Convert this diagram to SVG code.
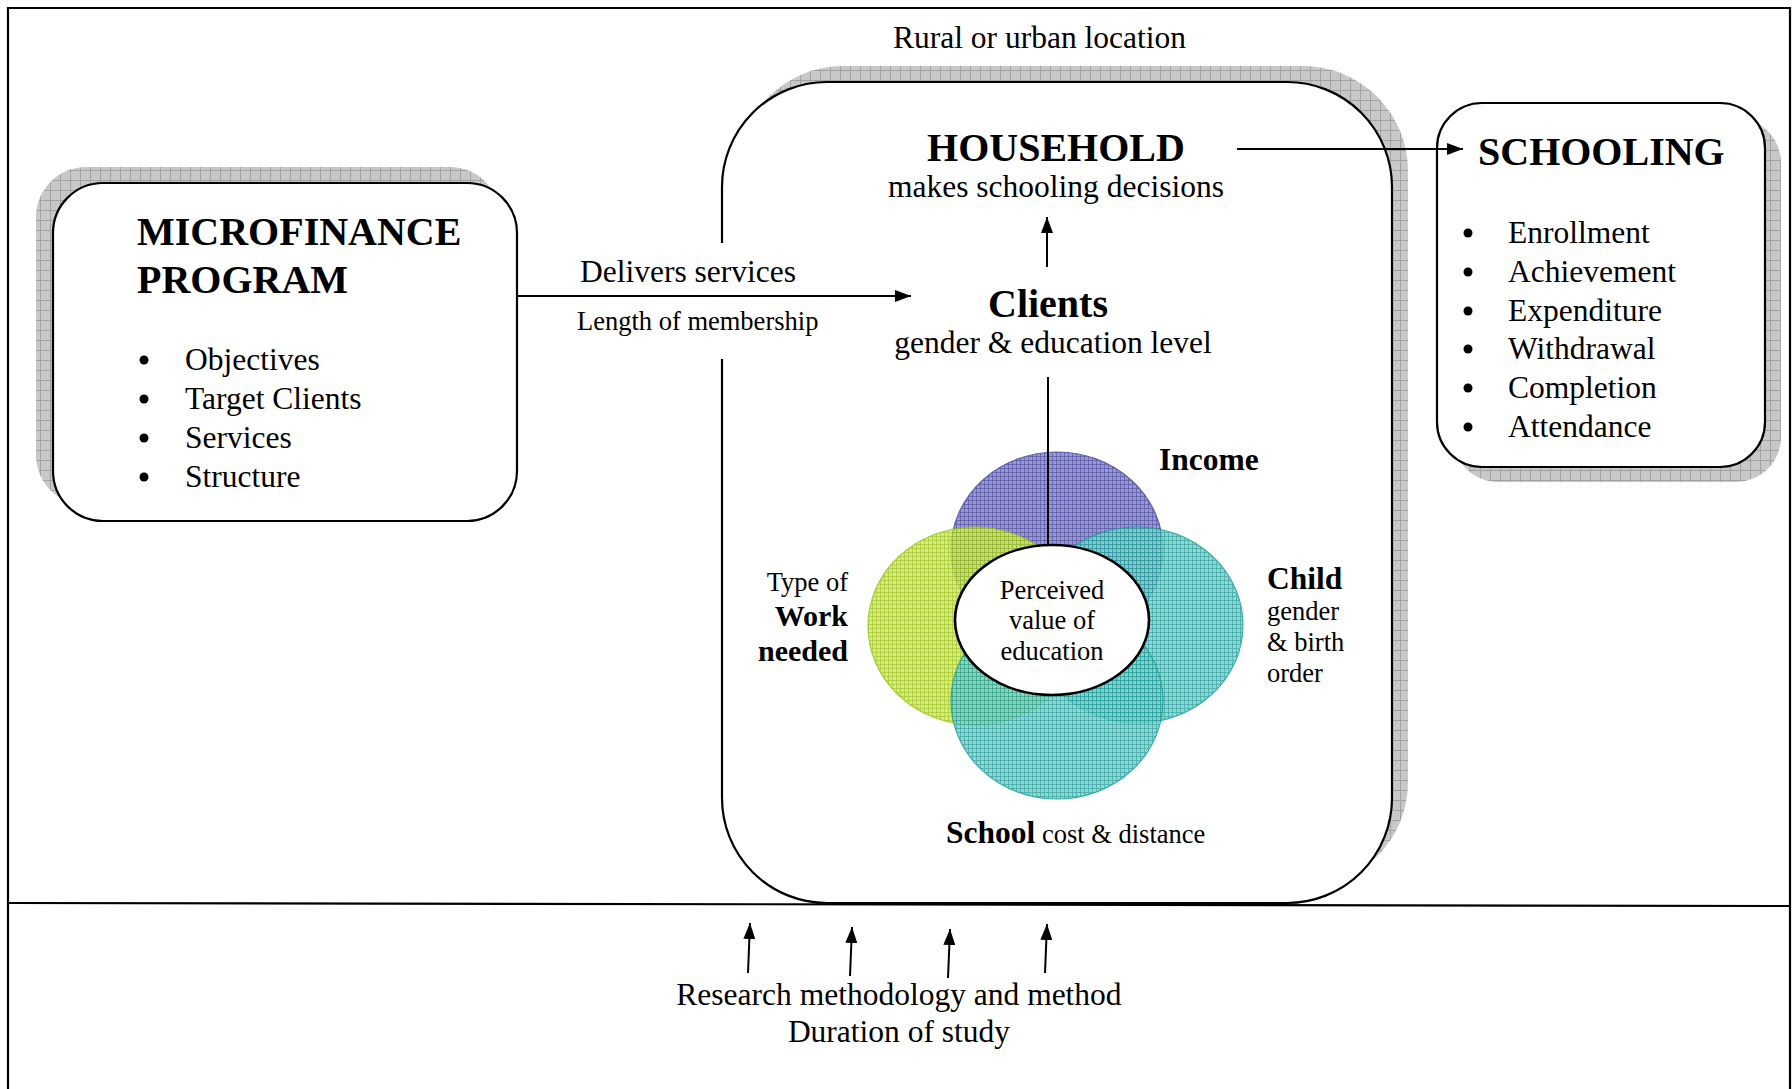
<svg xmlns="http://www.w3.org/2000/svg" width="1792" height="1089" viewBox="0 0 1792 1089">
<style>
  text { font-family: "Liberation Serif", "Times New Roman", serif; fill: #000; }
  .reg { font-size: 31.5px; }
  .sm { font-size: 26.5px; }
  .hd { font-size: 40px; font-weight: bold; }
  .bd { font-size: 31.5px; font-weight: bold; }
  .box { fill: #fff; stroke: #000; stroke-width: 2.2; }
  .shadow { fill: url(#shade); stroke: none; }
  .line { stroke: #000; stroke-width: 2; fill: none; }
  .frame { stroke: #000; stroke-width: 2.2; fill: none; }
  .bul { fill: #000; }
</style>
<defs>
  <pattern id="shade" width="10" height="10" patternUnits="userSpaceOnUse">
    <rect width="10" height="10" fill="#c8c8c8"/>
    <path d="M0,0.5H10M0.5,0V10" stroke="#a2a2a2" stroke-width="1"/>
  </pattern>
  <pattern id="pPurple" width="4" height="4" patternUnits="userSpaceOnUse">
    <rect width="4" height="4" fill="#8e8ecc"/>
    <path d="M0,0.5H4M0.5,0V4" stroke="#4c4ca2" stroke-width="0.8"/>
  </pattern>
  <pattern id="pGreen" width="4" height="4" patternUnits="userSpaceOnUse">
    <rect width="4" height="4" fill="#cfe672"/>
    <path d="M0,0.5H4M0.5,0V4" stroke="#9cc412" stroke-width="0.8"/>
  </pattern>
  <pattern id="pTeal" width="4" height="4" patternUnits="userSpaceOnUse">
    <rect width="4" height="4" fill="#86ccc8"/>
    <path d="M0,0.5H4M0.5,0V4" stroke="#1f9f9b" stroke-width="0.8"/>
  </pattern>
  <marker id="arr" viewBox="0 0 16 12" refX="16" refY="6" markerWidth="16" markerHeight="12" orient="auto" markerUnits="userSpaceOnUse">
    <path d="M0,0 L16,6 L0,12 z" fill="#000"/>
  </marker>
</defs>
<rect width="1792" height="1089" fill="#fff"/>
<g id="frame">
  <path class="frame" d="M8,1089 V8 H1790 V1089"/>
  <path class="frame" d="M8,903 L1790,906" stroke-width="2.6"/>
</g>
<g id="microfinance">
  <rect class="shadow" x="36" y="167" width="464" height="338" rx="50" ry="50"/>
  <rect class="box" x="53" y="183" width="464" height="338" rx="50" ry="50"/>
  <text class="hd" x="137" y="245">MICROFINANCE</text>
  <text class="hd" x="137" y="293">PROGRAM</text>
  <circle class="bul" cx="144" cy="360" r="4.5"/>
  <circle class="bul" cx="144" cy="399" r="4.5"/>
  <circle class="bul" cx="144" cy="438" r="4.5"/>
  <circle class="bul" cx="144" cy="477" r="4.5"/>
  <text class="reg" x="185" y="370">Objectives</text>
  <text class="reg" x="185" y="409">Target Clients</text>
  <text class="reg" x="185" y="448">Services</text>
  <text class="reg" x="185" y="487">Structure</text>
</g>
<g id="household">
  <rect class="shadow" x="738" y="66" width="670" height="821" rx="105" ry="105"/>
  <rect class="box" x="722" y="82" width="670" height="821" rx="105" ry="105"/>
  <rect x="570" y="243" width="262" height="116" fill="#fff"/>
  <text class="hd" x="1056" y="161" text-anchor="middle">HOUSEHOLD</text>
  <text class="reg" x="1056" y="197" text-anchor="middle">makes schooling decisions</text>
</g>
<text id="location" class="reg" x="893" y="48">Rural or urban location</text>
<g id="clients">
  <text class="hd" x="1048" y="317" text-anchor="middle">Clients</text>
  <text class="reg" x="1053" y="353" text-anchor="middle">gender &amp; education level</text>
</g>
<g id="schooling">
  <rect class="shadow" x="1453" y="118" width="328" height="364" rx="45" ry="45"/>
  <rect class="box" x="1437" y="103" width="328" height="364" rx="45" ry="45"/>
  <text class="hd" x="1478" y="165">SCHOOLING</text>
  <circle class="bul" cx="1468" cy="233" r="4.5"/>
  <circle class="bul" cx="1468" cy="272" r="4.5"/>
  <circle class="bul" cx="1468" cy="311" r="4.5"/>
  <circle class="bul" cx="1468" cy="349" r="4.5"/>
  <circle class="bul" cx="1468" cy="388" r="4.5"/>
  <circle class="bul" cx="1468" cy="427" r="4.5"/>
  <text class="reg" x="1508" y="243">Enrollment</text>
  <text class="reg" x="1508" y="282">Achievement</text>
  <text class="reg" x="1508" y="321">Expenditure</text>
  <text class="reg" x="1508" y="359">Withdrawal</text>
  <text class="reg" x="1508" y="398">Completion</text>
  <text class="reg" x="1508" y="437">Attendance</text>
</g>
<g id="factors">
  <ellipse cx="1057" cy="550" rx="106" ry="98" fill="url(#pPurple)" stroke="#4c4ca8" stroke-width="1.2" opacity="0.9"/>
  <ellipse cx="975" cy="626" rx="107" ry="99" fill="url(#pGreen)" stroke="#98c414" stroke-width="1.2" opacity="0.85"/>
  <ellipse cx="1137" cy="625" rx="106" ry="98" fill="url(#pTeal)" stroke="#1fa09c" stroke-width="1.2" opacity="0.85"/>
  <ellipse cx="1057" cy="701" rx="106" ry="98" fill="url(#pTeal)" stroke="#1fa09c" stroke-width="1.2" opacity="0.85"/>
</g>
<g id="perceived">
  <ellipse cx="1052" cy="620" rx="97" ry="75" fill="#fff" stroke="#000" stroke-width="2.6"/>
  <text class="sm" x="1052" y="599" text-anchor="middle">Perceived</text>
  <text class="sm" x="1052" y="629" text-anchor="middle">value of</text>
  <text class="sm" x="1052" y="660" text-anchor="middle">education</text>
</g>
<g id="income"><text class="bd" x="1159" y="470">Income</text></g>
<g id="child">
  <text class="bd" x="1267" y="589">Child</text>
  <text class="sm" x="1267" y="620">gender</text>
  <text class="sm" x="1267" y="651">&amp; birth</text>
  <text class="sm" x="1267" y="682">order</text>
</g>
<g id="work">
  <text class="sm" x="848" y="591" text-anchor="end">Type of</text>
  <text class="bd" x="848" y="626" text-anchor="end" style="font-size:30px">Work</text>
  <text class="bd" x="848" y="661" text-anchor="end" style="font-size:30px">needed</text>
</g>
<g id="school">
  <text x="946" y="843"><tspan class="bd">School</tspan><tspan class="sm"> cost &amp; distance</tspan></text>
</g>
<g id="connectors">
  <path class="line" d="M517,296 L911,296" marker-end="url(#arr)"/>
  <path class="line" d="M1047,267 L1047,217" marker-end="url(#arr)"/>
  <path class="line" d="M1237,149 L1463,149" marker-end="url(#arr)"/>
  <path class="line" d="M1048,377 L1048,545"/>
  <path class="line" d="M748,973 L750,923" marker-end="url(#arr)"/>
  <path class="line" d="M850,976 L852,927" marker-end="url(#arr)"/>
  <path class="line" d="M948,978 L950,929" marker-end="url(#arr)"/>
  <path class="line" d="M1045,973 L1047,924" marker-end="url(#arr)"/>
</g>
<g id="labels">
  <text class="reg" x="580" y="282">Delivers services</text>
  <text class="sm" x="577" y="330">Length of membership</text>
  <text class="reg" x="899" y="1005" text-anchor="middle">Research methodology and method</text>
  <text class="reg" x="899" y="1042" text-anchor="middle">Duration of study</text>
</g>
</svg>
